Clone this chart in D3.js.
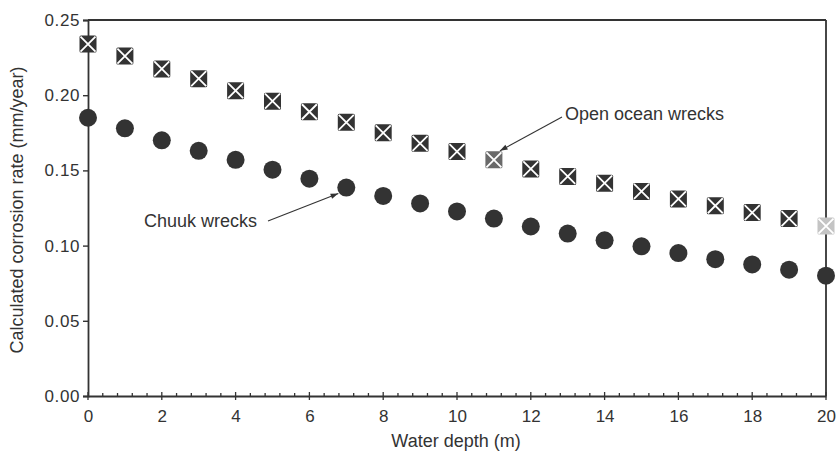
<!DOCTYPE html>
<html>
<head>
<meta charset="utf-8">
<script src="https://cdn.jsdelivr.net/npm/d3@7"></script>
<style>
  body { margin: 0; background: #fff; }
  text { font-family: "Liberation Sans", Arial, sans-serif; fill: #333; }
</style>
</head>
<body>
<svg id="chart" width="838" height="451"></svg>
<script>
// depth (m)
var depths = d3.range(0, 21);
// open ocean wrecks, mm/year
var openOcean = [0.234, 0.226, 0.2175, 0.211, 0.203, 0.196, 0.189, 0.182, 0.175, 0.168,
                 0.1625, 0.157, 0.151, 0.146, 0.1415, 0.136, 0.131, 0.1265, 0.122, 0.118, 0.113];
// chuuk wrecks, mm/year
var chuuk = [0.185, 0.178, 0.170, 0.163, 0.157, 0.1505, 0.1445, 0.1386, 0.133, 0.128,
             0.1227, 0.118, 0.1127, 0.108, 0.1035, 0.0995, 0.095, 0.091, 0.0875, 0.084, 0.080];
var xTicks = [0, 2, 4, 6, 8, 10, 12, 14, 16, 18, 20];
var yTicks = [0, 0.05, 0.10, 0.15, 0.20, 0.25];

// ---------- dimensions ----------
var margin = { top: 20, right: 12, bottom: 55, left: 88 };
var width = 838 - margin.left - margin.right;
var height = 451 - margin.top - margin.bottom;
var ink = "#333";

var svg = d3.select("#chart")
  .append("g")
  .attr("transform", "translate(" + margin.left + "," + margin.top + ")");

// ---------- scales ----------
var x = d3.scaleLinear().domain([0, 20]).range([0, width]);
var y = d3.scaleLinear().domain([0, 0.25]).range([height, 0]);

// ---------- axes ----------
var xAxis = svg.append("g")
  .attr("transform", "translate(0," + height + ")")
  .call(d3.axisBottom(x).tickValues(xTicks).tickFormat(d3.format("d")).tickSize(0).tickPadding(14));
xAxis.select(".domain").attr("stroke", ink).attr("stroke-width", 1.8);
xAxis.selectAll("text").style("font-size", "17px").style("fill", ink);

var yAxis = svg.append("g")
  .call(d3.axisLeft(y).tickValues(yTicks).tickFormat(d3.format(".2f")).tickSize(5).tickPadding(3));
yAxis.select(".domain").attr("stroke", ink).attr("stroke-width", 1.8);
yAxis.selectAll(".tick line").attr("stroke", ink).attr("stroke-width", 1.4);
yAxis.selectAll("text").style("font-size", "17px").style("letter-spacing", "0.6px").style("fill", ink);

// minor ticks on x (every 0.4 m)
var minor = d3.range(0, 20.01, 0.4);
function isMajor(d) { var r = d % 2; return r < 0.01 || r > 1.99; }
svg.append("g").selectAll("line")
  .data(minor)
  .enter().append("line")
  .attr("x1", d => x(d)).attr("x2", d => x(d))
  .attr("y1", d => isMajor(d) ? height - 4 : height - 3)
  .attr("y2", d => isMajor(d) ? height + 4 : height)
  .attr("stroke", ink)
  .attr("stroke-width", 1.3);

// frame: top and right
svg.append("line")
  .attr("x1", 0).attr("x2", width).attr("y1", 0).attr("y2", 0)
  .attr("stroke", ink).attr("stroke-width", 1.8);
svg.append("line")
  .attr("x1", width).attr("x2", width).attr("y1", 0).attr("y2", height)
  .attr("stroke", ink).attr("stroke-width", 1.8);

// ---------- markers ----------
// chuuk: filled circles
svg.append("g").selectAll("circle")
  .data(depths)
  .enter().append("circle")
  .attr("cx", d => x(d))
  .attr("cy", (d, i) => y(chuuk[i]))
  .attr("r", 9)
  .attr("fill", ink);

// open ocean: filled squares with white X (scan fades the last one)
var sq = 8.5;
var squares = svg.append("g").selectAll("g")
  .data(depths)
  .enter().append("g")
  .attr("transform", (d, i) => "translate(" + x(d) + "," + y(openOcean[i]) + ")");
squares.append("rect")
  .attr("x", -sq).attr("y", -sq)
  .attr("width", sq * 2).attr("height", sq * 2)
  .attr("rx", 1.5)
  .attr("fill", (d, i) => i === 20 ? "#c4c4c4" : (i === 11 ? "#6a6a6a" : ink));
squares.append("path")
  .attr("d", "M" + (-sq + 1) + "," + (-sq + 1) + "L" + (sq - 1) + "," + (sq - 1) +
             "M" + (sq - 1) + "," + (-sq + 1) + "L" + (-sq + 1) + "," + (sq - 1))
  .attr("stroke", "#fff")
  .attr("stroke-width", 1.8);

// ---------- annotations ----------
svg.append("defs").append("marker")
  .attr("id", "arrow")
  .attr("viewBox", "0 0 10 10")
  .attr("refX", 10).attr("refY", 5)
  .attr("markerWidth", 9).attr("markerHeight", 7)
  .attr("orient", "auto")
  .append("path")
  .attr("d", "M0,1.5L10,5L0,8.5z")
  .attr("fill", ink);

svg.append("text")
  .attr("x", 565 - margin.left)
  .attr("y", 120 - margin.top)
  .style("font-size", "18px")
  .text("Open ocean wrecks");
svg.append("line")
  .attr("x1", 562 - margin.left).attr("y1", 117 - margin.top)
  .attr("x2", x(11) + 6).attr("y2", y(openOcean[11]) - 9)
  .attr("stroke", ink).attr("stroke-width", 1.1)
  .attr("marker-end", "url(#arrow)");

svg.append("text")
  .attr("x", 144 - margin.left)
  .attr("y", 227 - margin.top)
  .style("font-size", "18px")
  .text("Chuuk wrecks");
svg.append("line")
  .attr("x1", 268 - margin.left).attr("y1", 221 - margin.top)
  .attr("x2", x(7) - 8).attr("y2", y(chuuk[7]) + 6)
  .attr("stroke", ink).attr("stroke-width", 1.1)
  .attr("marker-end", "url(#arrow)");

// ---------- axis titles ----------
svg.append("text")
  .attr("x", 456 - margin.left)
  .attr("y", 447 - margin.top)
  .attr("text-anchor", "middle")
  .style("font-size", "18px")
  .text("Water depth (m)");

svg.append("text")
  .attr("transform", "translate(" + (23 - margin.left) + "," + (210 - margin.top) + ") rotate(-90)")
  .attr("text-anchor", "middle")
  .style("font-size", "18px")
  .text("Calculated corrosion rate (mm/year)");
</script>
</body>
</html>
